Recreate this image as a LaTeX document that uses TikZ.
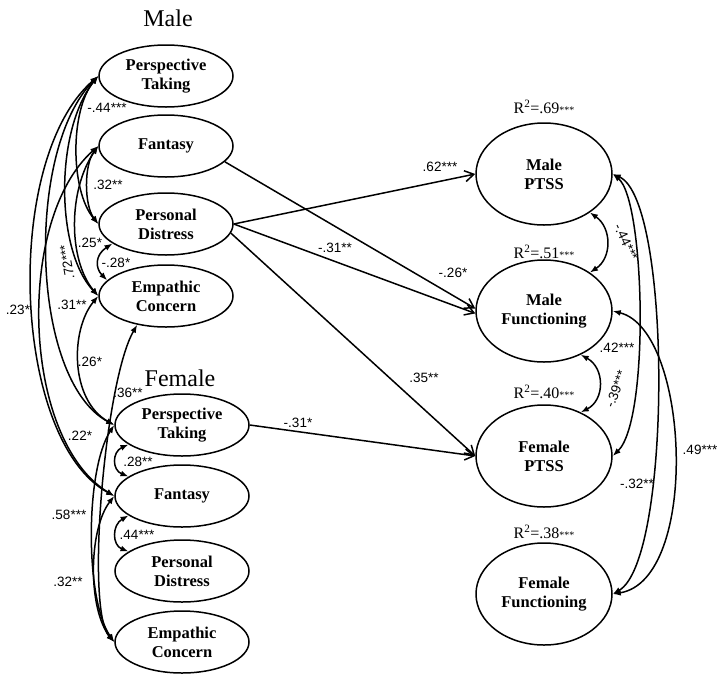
\documentclass[tikz,border=0pt]{standalone}
\usepackage{fontspec}
\setmainfont{Liberation Serif}
\setsansfont{Liberation Sans}
\usetikzlibrary{arrows.meta, shapes.geometric}

\newcommand{\rsqlab}[2]{R\textsuperscript{2}=#1{\fontsize{10}{10}\selectfont #2}}

\begin{document}
\begin{tikzpicture}[x=1pt, y=-1pt,
  lat/.style={draw, ellipse, line width=1.5pt, minimum width=134pt,
    minimum height=62pt, inner sep=0pt, align=center,
    font=\fontsize{16.5}{19}\selectfont\bfseries},
  dv/.style={lat, minimum width=136pt, minimum height=102pt},
  reg/.style={-{Straight Barb[length=9pt,width=11pt]}, line width=1.5pt},
  cov/.style={{Latex[length=8pt,width=6pt]}-{Latex[length=8pt,width=6pt]}, line width=1.5pt},
  est/.style={font=\sffamily\fontsize{13.5}{15}\selectfont, inner sep=1pt},
  rsq/.style={font=\fontsize{16}{18}\selectfont, inner sep=1pt},
  grp/.style={font=\fontsize{24}{28}\selectfont, inner sep=0pt},
]
\useasboundingbox (0,0) rectangle (720,675);

\node[grp] (male) at (168,18) {Male};
\node[grp] (female) at (180,378) {Female};

\node[lat] (mpt) at (166,76) {Perspective\\Taking};
\node[lat] (mfan) at (166,146) {Fantasy};
\node[lat] (mpd) at (166,224) {Personal\\Distress};
\node[lat] (mec) at (166,296) {Empathic\\Concern};

\node[lat] (fpt) at (182,425) {Perspective\\Taking};
\node[lat] (ffan) at (182,496) {Fantasy};
\node[lat] (fpd) at (182,571) {Personal\\Distress};
\node[lat] (fec) at (182,642) {Empathic\\Concern};

\node[dv] (mptss) at (544,174) {Male\\PTSS};
\node[dv] (mfunc) at (544,311) {Male\\Functioning};
\node[dv] (fptss) at (544,456) {Female\\PTSS};
\node[dv] (ffunc) at (544,594) {Female\\Functioning};

\node[rsq] (r1) at (544,107) {\rsqlab{.69}{***}};
\node[rsq] (r2) at (544,252) {\rsqlab{.51}{***}};
\node[rsq] (r3) at (544,392) {\rsqlab{.40}{***}};
\node[rsq] (r4) at (544,532) {\rsqlab{.38}{***}};

\draw[reg] (mpd.east) -- (mptss.west);
\draw[reg] (mpd.east) -- (mfunc.182);
\draw[reg] (mfan.-15) -- (mfunc.178);
\draw[reg] (mpd.-8) -- (fptss.west);
\draw[reg] (fpt.east) -- (fptss.west);
\node[est] (e1) at (440,167) {.62***};
\node[est] (e2) at (335,248) {-.31**};
\node[est] (e3) at (453,273) {-.26*};
\node[est] (e4) at (424,378) {.35**};
\node[est] (e5) at (298,423) {-.31*};

\draw[cov] (mpt.west) .. controls (70,110) and (70,190) .. (mpd.west);
\draw[cov] (mfan.west) .. controls (84,165) and (84,205) .. (mpd.west);
\draw[cov] (mfan.west) .. controls (68,190) and (68,260) .. (mec.west);
\draw[cov] (mpd.200) .. controls (95,255) and (95,268) .. (mec.165);
\draw[cov] (mpt.west) .. controls (55,130) and (55,250) .. (mec.west);
\draw[cov] (mpt.west) .. controls (25,150) and (30,380) .. (fpt.west);
\draw[cov] (mpt.west) .. controls (2,160) and (12,440) .. (ffan.west);
\draw[cov] (mfan.west) .. controls (15,220) and (22,440) .. (ffan.west);
\draw[cov] (mec.west) .. controls (70,330) and (70,400) .. (fpt.west);
\draw[cov] (mec.225) .. controls (105,380) and (85,610) .. (fec.west);
\draw[cov] (fpt.200) .. controls (112,452) and (112,470) .. (ffan.160);
\draw[cov] (ffan.200) .. controls (112,525) and (112,545) .. (fpd.160);
\draw[cov] (fpt.west) .. controls (85,470) and (85,600) .. (fec.west);
\draw[cov] (ffan.west) .. controls (88,530) and (88,610) .. (fec.west);

\node[est] (c1) at (107,108) {-.44***};
\node[est] (c2) at (108,185) {.32**};
\node[est] (c3) at (90,243) {.25*};
\node[est] (c4) at (116,263) {-.28*};
\node[est, rotate=100] (c5) at (67,262) {.72***};
\node[est] (c6) at (72,305) {.31**};
\node[est] (c7) at (18,310) {.23*};
\node[est] (c8) at (90,362) {.26*};
\node[est] (c9) at (128,393) {.36**};
\node[est] (c10) at (80,436) {.22*};
\node[est] (c11) at (138,462) {.28**};
\node[est] (c12) at (137,535) {.44***};
\node[est] (c13) at (69,515) {.58***};
\node[est] (c14) at (68,582) {.32**};

\draw[cov] (mptss.-40) .. controls (612,228) and (612,258) .. (mfunc.40);
\draw[cov] (mfunc.-50) .. controls (605,368) and (605,400) .. (fptss.50);
\draw[cov] (mptss.east) .. controls (645,200) and (650,420) .. (fptss.east);
\draw[cov] (mptss.east) .. controls (672,200) and (672,560) .. (ffunc.east);
\draw[cov] (mfunc.east) .. controls (690,330) and (700,580) .. (ffunc.east);

\node[est, rotate=-65] (d1) at (626,242) {-.44***};
\node[est, rotate=70] (d2) at (616,389) {-.39***};
\node[est] (d3) at (617,348) {.42***};
\node[est] (d4) at (637,484) {-.32**};
\node[est] (d5) at (700,450) {.49***};
\end{tikzpicture}
\end{document}
